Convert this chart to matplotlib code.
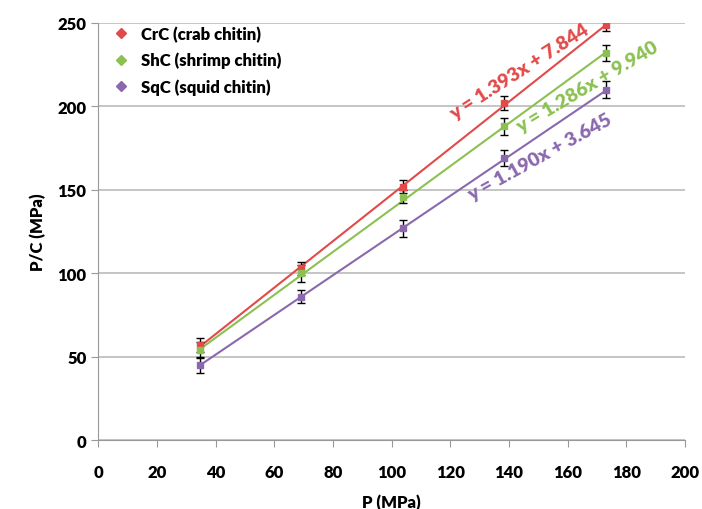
import numpy as np
import matplotlib.pyplot as plt
from matplotlib.lines import Line2D

plt.rcParams['font.family'] = ['Lato', 'DejaVu Sans']

# dane
p = [34.6, 69.2, 103.8, 138.4, 173.0]
crc = [57, 103, 152, 202, 249]
shc = [54, 100, 146, 188, 232]
sqc = [45, 86, 127, 169, 210]
crc_err = [4, 4, 4, 4, 4]
shc_err = [5, 5, 4, 5, 5]
sqc_err = [5, 4, 5, 5, 5]

etykiety = ['CrC (crab chitin)', 'ShC (shrimp chitin)', 'SqC (squid chitin)']
rownania = ['y = 1.393x + 7.844', 'y = 1.286x + 9.940', 'y = 1.190x + 3.645']
nachylenia = [1.393, 1.286, 1.190]
wyrazy_wolne = [7.844, 9.940, 3.645]
kolory = ['#E24A4A', '#8CC152', '#8B68AE']
pozycje_tekstu = [(143.5, 221), (166.5, 212), (150.5, 170)]

waga = 'heavy'

fig = plt.figure(figsize=(7.02, 5.10), dpi=100)
ax = fig.add_axes([0.14, 0.135, 0.836, 0.818])

serie = [(crc, crc_err), (shc, shc_err), (sqc, sqc_err)]
for (y, err), kolor, a, b in zip(serie, kolory, nachylenia, wyrazy_wolne):
    xs = np.array([p[0], p[-1]])
    ax.plot(xs, a * xs + b, color=kolor, lw=1.5, zorder=2)
    ax.errorbar(p, y, yerr=err, fmt='none', ecolor='black', elinewidth=1,
                capsize=3, capthick=1, zorder=3)
    ax.plot(p, y, 's', color=kolor, ms=5, zorder=4)

# kat obrotu tekstu w pikselach
fig.canvas.draw()
for tekst, kolor, a, b, (tx, ty) in zip(rownania, kolory, nachylenia, wyrazy_wolne, pozycje_tekstu):
    p1 = ax.transData.transform((100, a * 100 + b))
    p2 = ax.transData.transform((150, a * 150 + b))
    kat = np.degrees(np.arctan2(p2[1] - p1[1], p2[0] - p1[0]))
    ax.text(tx, ty, tekst, color=kolor, fontsize=14, fontweight=waga,
            rotation=kat, rotation_mode='anchor', ha='center', va='center')

ax.set_xlim(0, 200)
ax.set_ylim(0, 250)
ax.set_xticks(np.arange(0, 201, 20))
ax.set_yticks(np.arange(0, 251, 50))
ax.yaxis.grid(True, color='#BBBBBB', lw=1.2)
ax.set_axisbelow(True)
for s in ['top', 'right']:
    ax.spines[s].set_visible(False)
for s in ['left', 'bottom']:
    ax.spines[s].set_color('#999999')
ax.tick_params(axis='x', direction='out', length=5, color='#999999', pad=12)
ax.tick_params(axis='y', length=5, color='#999999')
for lab in ax.get_xticklabels() + ax.get_yticklabels():
    lab.set_fontweight(waga)
    lab.set_fontsize(12)

ax.set_xlabel('P (MPa)', fontsize=12, fontweight=waga, labelpad=10)
ax.set_ylabel('P/C (MPa)', fontsize=12, fontweight=waga, labelpad=8)

uchwyty = [Line2D([], [], marker='D', ls='none', color=k, ms=5) for k in kolory]
ax.legend(uchwyty, etykiety, loc='upper left', bbox_to_anchor=(-0.015, 1.03),
          frameon=False, prop={'weight': waga, 'size': 12},
          handletextpad=0.2, labelspacing=0.6)

plt.savefig('out.png', dpi=100)
